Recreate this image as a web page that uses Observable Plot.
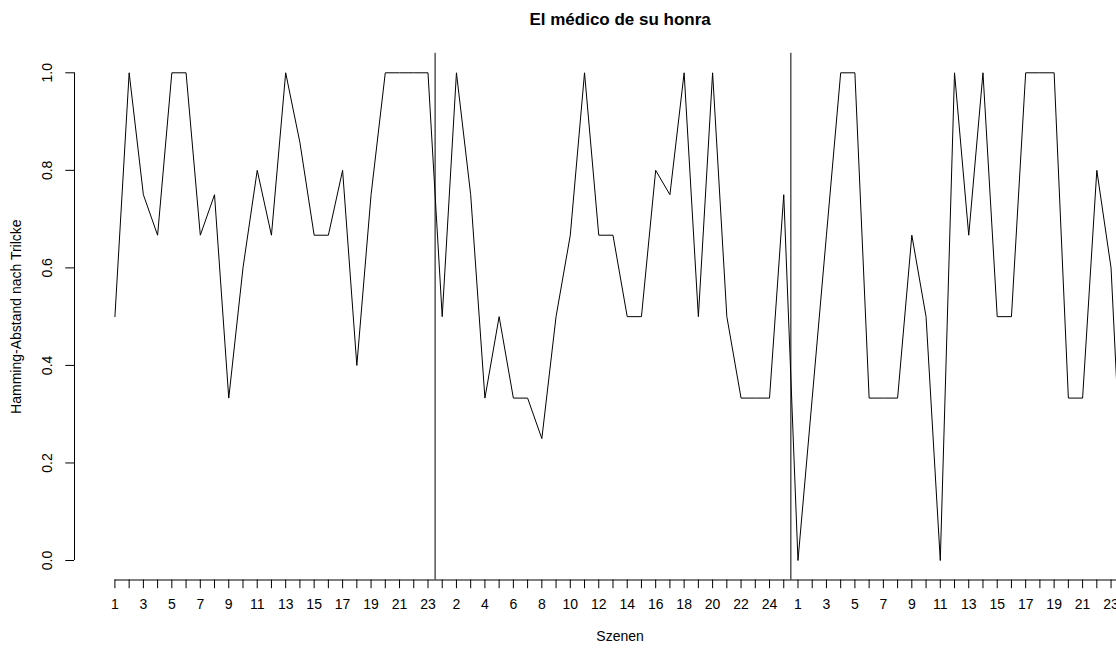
<!DOCTYPE html>
<html><head><meta charset="utf-8">
<script src="https://cdn.jsdelivr.net/npm/d3@7"></script>
<script src="https://cdn.jsdelivr.net/npm/@observablehq/plot@0.6"></script>
<style>
html,body{margin:0;padding:0;background:#fff;overflow:hidden;}
#chart svg{overflow:hidden;display:block}
</style></head><body><div id="chart"></div>
<script>
const title = "El médico de su honra";
const xLabel = "Szenen";
const yLabel = "Hamming-Abstand nach Trilcke";

// Hamming distance per scene, one array per act
const act1 = [0.5, 1, 0.75, 0.667, 1, 1, 0.667, 0.75, 0.333, 0.6, 0.8, 0.667, 1, 0.857, 0.667, 0.667, 0.8, 0.4, 0.75, 1, 1, 1, 1];
const act2 = [0.5, 1, 0.75, 0.333, 0.5, 0.333, 0.333, 0.25, 0.5, 0.667, 1, 0.667, 0.667, 0.5, 0.5, 0.8, 0.75, 1, 0.5, 1, 0.5, 0.333, 0.333, 0.333, 0.75];
const act3 = [0, 0.333, 0.667, 1, 1, 0.333, 0.333, 0.333, 0.667, 0.5, 0, 1, 0.667, 1, 0.5, 0.5, 1, 1, 1, 0.333, 0.333, 0.8, 0.6, 0];

const yTicks = [0, 0.2, 0.4, 0.6, 0.8, 1.0];
const yTickLabels = ["0.0", "0.2", "0.4", "0.6", "0.8", "1.0"];

const acts = [act1, act2, act3];
const rows = [];
const boundaries = [];
let pos = 0;
acts.forEach((act, a) => {
  act.forEach((v, i) => { pos++; rows.push({pos, act: a + 1, scene: i + 1, value: v}); });
  if (a < acts.length - 1) boundaries.push(pos + 0.5);
});
const n = rows.length;
const pad = 0.04 * (n - 1);
const xDomain = [1 - pad, n + pad];
const yDomain = [-0.04, 1.04];
const xMid = (xDomain[0] + xDomain[1]) / 2;
const font = "'Liberation Sans', Arial, Helvetica, sans-serif";

const chart = Plot.plot({
  width: 1116, height: 648,
  marginLeft: 74, marginRight: 0, marginTop: 52.8, marginBottom: 68.5,
  style: {fontFamily: font, fontSize: "14px", color: "black", background: "white", overflow: "hidden"},
  x: {domain: xDomain, range: [74, 1165.2]},
  y: {domain: yDomain},
  marks: [
    Plot.ruleY([yDomain[0]], {x1: 1, x2: n, stroke: "black"}),
    Plot.axisX({ticks: rows.map(d => d.pos), tickSize: 8.7, tickPadding: 10.5,
      tickFormat: p => (p % 2 === 1 ? String(rows[p - 1].scene) : ""), label: null, stroke: "black", fill: "black"}),
    Plot.ruleX([xDomain[0]], {y1: 0, y2: 1, stroke: "black"}),
    Plot.axisY({ticks: yTicks, tickSize: 8.7, tickFormat: () => "", label: null, stroke: "black"}),
    Plot.text(yTicks, {y: d => d, text: (d, i) => yTickLabels[i], frameAnchor: "left", dx: -26.5, rotate: -90,
      textAnchor: "middle", lineAnchor: "middle", fill: "black"}),
    Plot.text([yLabel], {y: 0.5, frameAnchor: "left", dx: -58, rotate: -90, textAnchor: "middle", lineAnchor: "middle", fill: "black"}),
    Plot.text([xLabel], {x: xMid, frameAnchor: "bottom", dy: 57, textAnchor: "middle", lineAnchor: "middle", fill: "black"}),
    Plot.text([title], {x: xMid, frameAnchor: "top", dy: -33.3, textAnchor: "middle", lineAnchor: "middle",
      fontWeight: "bold", fontSize: 17, fill: "black"}),
    Plot.ruleX(boundaries, {stroke: "black"}),
    Plot.line(rows, {x: "pos", y: "value", stroke: "black", strokeWidth: 1})
  ]
});
document.getElementById("chart").appendChild(chart);
</script></body></html>
